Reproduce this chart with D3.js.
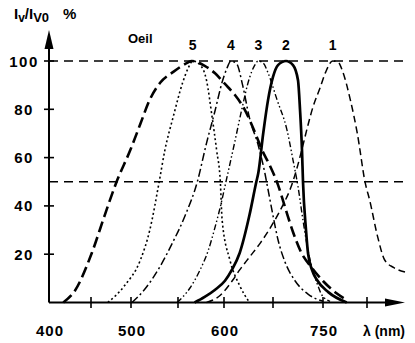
<!DOCTYPE html>
<html>
<head>
<meta charset="utf-8">
<script src="https://cdn.jsdelivr.net/npm/d3@7"></script>
<style>
  html, body { margin: 0; padding: 0; background: #fff; }
  svg { display: block; font-family: "Liberation Sans", Arial, sans-serif; }
</style>
</head>
<body>
<div id="chart"></div>
<script>
// relative intensity Iv/Iv0 (%) vs wavelength (nm)
const eye  = [[417,0],[431,5],[451,20.5],[467,36],[482,50],[499,63],[510,74],[520,84],[531,91],[545,95.5],[560,99.2],[565,100],[579,98],[590,95],[601,90.5],[611,86],[621,80],[632,70],[639,63],[647,56.5],[660,48.7],[674,39.5],[690,29.2],[706,20.9],[728,14.3],[750,8.9],[765,3.9],[777,1]];
const led5 = [[471,0],[492,7],[510,17.6],[520,30],[530,50],[536,63],[545,77],[555,91],[561,97],[566,100],[574,98.4],[581,92],[587,77],[592,63],[596,50],[598,34],[606,17.6],[616,7],[626,0]];
const led4 = [[501,0],[514,5.2],[530,14.3],[544,24.6],[558,36.2],[571,50],[581,66],[590,79],[598,91.3],[603,97],[607,100],[613,98.8],[619,90],[626,76.4],[635,65],[642,53],[645,46.6],[650,36],[660,26],[674,16.8],[694,9],[720,3.5],[750,0.5]];
const led3 = [[549,0],[563,6],[574,13.5],[583,21.7],[590,30.8],[597,41.2],[602,50],[611,66.5],[618,79.7],[626,93],[631,98],[635,100],[640,99.2],[645,95],[658,84],[678,71.4],[690,59],[700,48],[710,34],[720,21.7],[728,14.3],[738,8],[748,3],[758,0.5]];
const led2 = [[568,0],[579,2.3],[590,5.2],[601,9],[608,13.5],[616,20.5],[626,36.2],[633,50],[635,53.6],[640,70],[645,84],[650,93.4],[660,98.3],[676,100],[690,98.3],[700,92],[704,80],[708,63],[710,50],[716,30],[720,20.5],[728,13.5],[738,9.3],[756,4.3],[777,0]];
const led1 = [[581,0],[596,3],[609,9.3],[616,13.5],[626,18.8],[637,24.6],[649,32.1],[670,40.4],[686,47.8],[698,55.7],[710,65.2],[720,73.5],[730,81],[744,88.8],[753,95.4],[761,100],[767,99.6],[772,96],[781,84],[789,70],[798,49.5],[803,42.4],[812,27.3],[820,17.6],[830,14.5],[843,12.6]];

const yTicks = [20, 40, 60, 80, 100];
const xTickMarks = [450, 500, 550, 600, 650, 750, 800];
const xLabels = [400, 500, 600, 750];
const refLines = [100, 50];
const curveLabels = [["5", 566], ["4", 607], ["3", 635], ["2", 676], ["1", 761]];

const W = 415, H = 343;
const svg = d3.select("#chart").append("svg")
  .attr("width", W).attr("height", H);

// the printed wavelength axis is not evenly spaced, so map it piece by piece
const x = d3.scaleLinear()
  .domain([400, 450, 500, 550, 600, 650, 750, 800, 843])
  .range([49, 91, 131, 178, 224, 273, 323, 367, 405]);
const y = d3.scaleLinear().domain([0, 100]).range([302.5, 61]);

// dashed reference lines
svg.selectAll("line.ref").data(refLines).enter().append("line")
  .attr("x1", 49).attr("x2", 405)
  .attr("y1", d => y(d)).attr("y2", d => y(d))
  .attr("stroke", "#000").attr("stroke-width", 1.5)
  .attr("stroke-dasharray", "9,6");

// curves
const line = d3.line()
  .x(d => x(d[0])).y(d => y(d[1]))
  .curve(d3.curveMonotoneX);

const series = [
  { data: eye,  w: 2.6, dash: "11,5" },
  { data: led5, w: 1.6, dash: "2,2.6" },
  { data: led4, w: 1.5, dash: "8,3,2,3" },
  { data: led3, w: 1.4, dash: "6,2.5,1.5,2.5,1.5,2.5" },
  { data: led2, w: 2.7, dash: null },
  { data: led1, w: 1.5, dash: "7,4" }
];
svg.selectAll("path.curve").data(series).enter().append("path")
  .attr("d", d => line(d.data))
  .attr("fill", "none")
  .attr("stroke", "#000")
  .attr("stroke-width", d => d.w)
  .attr("stroke-dasharray", d => d.dash);

// axes
const axes = svg.append("g").attr("stroke", "#000");
axes.append("line").attr("x1", 49).attr("x2", 49).attr("y1", 302.5).attr("y2", 46).attr("stroke-width", 2);
axes.append("line").attr("x1", 49).attr("x2", 390).attr("y1", 302.5).attr("y2", 302.5).attr("stroke-width", 2);
svg.append("path").attr("d", "M49,30 L44.5,49 L53.5,49 Z").attr("fill", "#000");
svg.append("path").attr("d", "M405,302.5 L385,298.5 L385,306.5 Z").attr("fill", "#000");

axes.selectAll("line.yt").data(yTicks).enter().append("line")
  .attr("x1", 44).attr("x2", 54)
  .attr("y1", d => y(d)).attr("y2", d => y(d))
  .attr("stroke-width", 1.6);
axes.selectAll("line.xt").data(xTickMarks).enter().append("line")
  .attr("x1", d => x(d)).attr("x2", d => x(d))
  .attr("y1", 297).attr("y2", 308)
  .attr("stroke-width", 1.6);

svg.selectAll("text.yl").data(yTicks).enter().append("text")
  .attr("x", 24).attr("y", d => y(d) + 5.5)
  .attr("text-anchor", "middle")
  .attr("font-size", 15).attr("font-weight", "bold")
  .attr("letter-spacing", 1.5)
  .text(d => d);

svg.selectAll("text.xl").data(xLabels).enter().append("text")
  .attr("x", d => x(d) + 1).attr("y", 336)
  .attr("text-anchor", "middle")
  .attr("font-size", 15).attr("font-weight", "bold")
  .attr("letter-spacing", 1)
  .text(d => d);

svg.append("text").attr("x", 363).attr("y", 336)
  .attr("font-size", 14).attr("font-weight", "bold")
  .text("λ (nm)");

// axis title Iv/Iv0 %
const t = svg.append("text").attr("x", 14).attr("y", 19)
  .attr("font-size", 15).attr("font-weight", "bold");
t.append("tspan").text("I");
t.append("tspan").attr("dy", 3).attr("font-size", 12).text("v");
t.append("tspan").attr("dy", -3).text("/I");
t.append("tspan").attr("dy", 3).attr("font-size", 13).text("V0");
t.append("tspan").attr("dy", -3).attr("dx", 14).text("%");

svg.append("text").attr("x", 128).attr("y", 43)
  .attr("font-size", 13).attr("font-weight", "bold")
  .text("Oeil");

svg.selectAll("text.cl").data(curveLabels).enter().append("text")
  .attr("x", d => x(d[1])).attr("y", 50)
  .attr("text-anchor", "middle")
  .attr("font-size", 14).attr("font-weight", "bold")
  .text(d => d[0]);
</script>
</body>
</html>
